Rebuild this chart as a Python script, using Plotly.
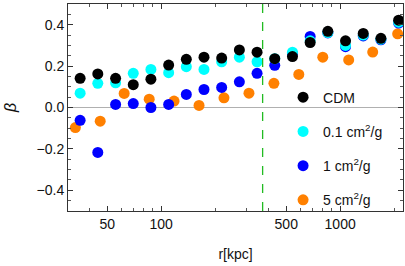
import plotly.graph_objects as go

# shared radii (log-spaced) for CDM, 0.1 and 1 cm^2/g runs
r_main = [35.3, 44.3, 55.7, 69.9, 87.7, 110.2, 138.3, 173.6, 217.9, 273.6,
          343.5, 431.3, 541.5, 679.9, 853.6, 1071.7, 1345.5, 1689.0, 2121.0]
beta_cdm = [0.141, 0.162, 0.141, 0.110, 0.137, 0.205, 0.233, 0.243, 0.239, 0.278,
            0.267, 0.236, 0.246, 0.314, 0.368, 0.322, 0.358, 0.334, 0.422]
beta_01 = [0.069, 0.117, 0.119, 0.165, 0.184, 0.168, 0.197, 0.184, 0.221, 0.243,
           0.221, 0.236, 0.267, 0.322, 0.362, 0.300, 0.350, 0.330, 0.412]
beta_1 = [-0.062, -0.217, 0.015, 0.019, 0.000, 0.015, 0.063, 0.087, 0.097, 0.124,
          0.165, 0.204, 0.260, 0.343, 0.360, 0.294, 0.346, 0.327, 0.408]
# radii for 5 cm^2/g run
r_5 = [33.2, 45.7, 62.2, 85.8, 118.1, 162.9, 224.4, 309.5, 426.6, 587.6,
       799.8, 1116.0, 1520.0, 2095.0]
beta_5 = [-0.097, -0.066, 0.068, 0.040, 0.031, 0.010, 0.047, 0.069, 0.117, 0.160,
          0.243, 0.230, 0.268, 0.356]

r_vline = 369
x_tickvals = [50, 100, 500, 1000]
x_ticktext = ["50", "100", "500", "1000"]
x_minor = [40, 60, 70, 80, 90, 200, 300, 400, 600, 700, 800, 900, 2000]
y_tickvals = [-0.4, -0.2, 0.0, 0.2, 0.4]
y_ticktext = ["\u22120.4", "\u22120.2", "0.0", "0.2", "0.4"]

series = [
    ("CDM", r_main, beta_cdm, "#000000", 1),
    ("0.1 cm<sup>2</sup>/g", r_main, beta_01, "#00ffff", 2),
    ("1 cm<sup>2</sup>/g", r_main, beta_1, "#0000ff", 3),
    ("5 cm<sup>2</sup>/g", r_5, beta_5, "#ff8000", 4),
]

fig = go.Figure()
# draw order: orange, blue, cyan, black on top
for name, xs, ys, col, rank in [series[3], series[2], series[1], series[0]]:
    fig.add_trace(go.Scatter(
        x=xs, y=ys, mode="markers", name=name, legendgroup=name, legendrank=rank,
        marker=dict(color=col, size=11, line=dict(width=0)),
    ))

fig.add_shape(type="line", xref="paper", yref="y", x0=0, x1=1, y0=0, y1=0,
              line=dict(color="#b0b0b0", width=1), layer="below")
fig.add_shape(type="line", xref="x", yref="paper", x0=r_vline, x1=r_vline, y0=0, y1=1,
              line=dict(color="#22bb22", width=1.3, dash="dash"))

fig.update_layout(
    width=405, height=266,
    margin=dict(l=68, r=2, t=4, b=55, autoexpand=False),
    paper_bgcolor="white", plot_bgcolor="white",
    font=dict(family="Liberation Sans, Arial, sans-serif", size=14, color="#111"),
    showlegend=True,
    legend=dict(x=0.642, y=0.625, xanchor="left", yanchor="top",
                bgcolor="rgba(0,0,0,0)", traceorder="grouped",
                tracegroupgap=13, itemsizing="trace",
                font=dict(size=14)),
    xaxis=dict(type="log", range=[1.48, 3.351], showgrid=False, zeroline=False,
               automargin=False,
               tickvals=x_tickvals, ticktext=x_ticktext,
               ticks="inside", ticklen=5, tickcolor="#333",
               showline=True, linecolor="#333", linewidth=1, mirror="allticks",
               minor=dict(tickvals=x_minor, ticks="inside", ticklen=3, tickcolor="#555"),
               title=dict(text="r[kpc]", font=dict(size=14), standoff=18),
               tickfont=dict(size=14)),
    yaxis=dict(range=[-0.5, 0.5], showgrid=False, zeroline=False,
               automargin=False,
               tickvals=y_tickvals, ticktext=y_ticktext,
               ticks="inside", ticklen=5, tickcolor="#333",
               showline=True, linecolor="#333", linewidth=1, mirror="allticks",
               minor=dict(dtick=0.05, tick0=0, ticks="inside", ticklen=3, tickcolor="#555"),
               title=dict(text="<i>β</i>", font=dict(size=16)),
               tickfont=dict(size=14)),
)

fig.write_html("out.html", config={"displayModeBar": False},
               post_script="document.body.style.margin='0';document.body.style.overflow='hidden';")
